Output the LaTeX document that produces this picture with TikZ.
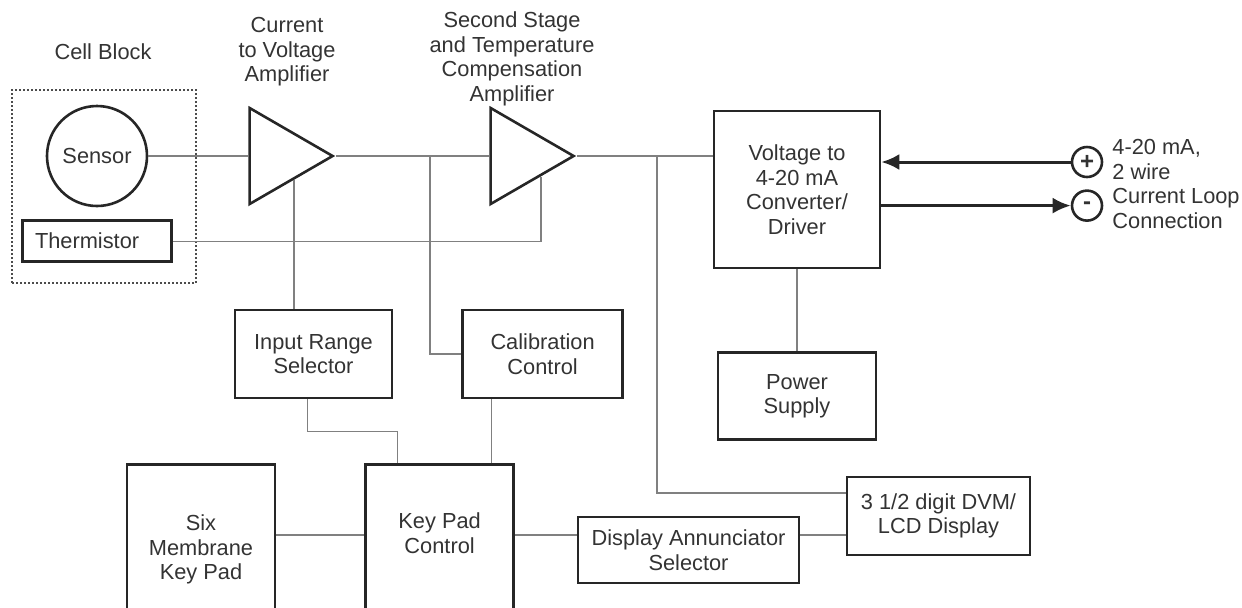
\documentclass[tikz,border=0pt]{standalone}
\usepackage{fontspec}
\setmainfont{Liberation Sans}
\usetikzlibrary{arrows.meta,positioning,shapes.geometric,calc}

\begin{document}
\begin{tikzpicture}[
    x=0.5pt, y=-0.5pt,
    font=\fontsize{10.9pt}{12.25pt}\selectfont,
    text=black!80,
    block/.style={draw=black!85, line width=1.3pt, align=center, inner sep=2pt},
    amp/.style={draw=black!85, line width=1.3pt, isosceles triangle,
        isosceles triangle stretches, minimum width=48pt, minimum height=41.5pt,
        inner sep=0pt, anchor=apex},
    caption/.style={align=center},
    terminal/.style={draw=black!85, circle, line width=1.3pt, minimum size=15pt,
        inner sep=0pt, font=\bfseries\fontsize{12pt}{12pt}\selectfont},
    wire/.style={draw=black!50, line width=0.6pt},
    loopline/.style={-{Latex[length=9pt,width=8pt]}, line width=1.5pt, black!85}
]
    \path[use as bounding box, clip] (0,0) rectangle (1242,607);

    % cell block
    \node[caption] (celltitle) at (103,52) {Cell Block};
    \node[draw=black!70, line width=1pt, dash pattern=on 1pt off 1pt,
        minimum width=92pt, minimum height=96.5pt, inner sep=0pt] (cell) at (104,186.5) {};
    \node[block, circle, minimum size=50pt, inner sep=0pt] (sensor) at (97,156) {Sensor};
    \node[block, below=6pt of sensor, minimum height=20.5pt, text width=62pt,
        align=left, inner xsep=6.25pt] (therm) {Thermistor};

    % amplifiers
    \node[amp] (amp1) at (336,156) {};
    \node[amp] (amp2) at (577,156) {};
    \node[caption] (amp1title) at (287,52) {Current\\to Voltage\\Amplifier};
    \node[caption] (amp2title) at (512,59) {Second Stage\\and Temperature\\Compensation\\Amplifier};

    % converter and loop
    \node[block, minimum width=83pt, minimum height=78.5pt] (conv) at (797,189.5)
        {Voltage to\\4-20 mA\\Converter/\\Driver};
    \node[block, below=41pt of conv, minimum width=79pt, minimum height=43.5pt] (power) {Power\\Supply};
    \node[terminal] (plus) at (1087,162) {+};
    \node[terminal, below=5.5pt of plus] (minus) {-};
    \node[caption, align=left, anchor=west, inner xsep=0pt] (looptext) at (1112,184)
        {4-20 mA,\\2 wire\\Current Loop\\Connection};

    % controls
    \node[block, minimum width=78.5pt, minimum height=44pt] (range) at (313.5,354) {Input Range\\Selector};
    \node[block, right=34pt of range, minimum width=80pt, minimum height=44pt] (calib) {Calibration\\Control};
    \node[block, anchor=north, minimum width=74pt, minimum height=88.5pt, text depth=5.6pt]
        (sixkey) at (201,463) {Six\\Membrane\\Key Pad};
    \node[block, right=44pt of sixkey, minimum width=74pt, minimum height=88.5pt, text depth=19.5pt]
        (keypad) {Key Pad\\Control};
    \node[block, minimum width=110.5pt, minimum height=33pt] (disp) at (688.5,550) {Display Annunciator\\Selector};
    \node[block, minimum width=91.5pt, minimum height=39pt] (dvm) at (938.5,516) {3 1/2 digit DVM/\\LCD Display};

    \coordinate (tap1) at (430,156);
    \coordinate (tap2) at (657,156);
    \coordinate (kprow) at (0,535);
    \coordinate (a1low) at ($(amp1.apex)!0.48!(amp1.right corner)$);
    \coordinate (a2low) at ($(amp2.apex)!0.41!(amp2.right corner)$);
    \coordinate (cdrop) at ([xshift=15pt]calib.south west);

    \draw[wire] (sensor.east) -- (amp1.west);
    \draw[wire] (amp1.apex) -- (amp2.west);
    \draw[wire] (amp2.apex) -- (amp2.apex -| conv.west);
    \draw[wire] (tap1) |- (calib.west);
    \draw[wire] (tap2) |- ([yshift=11.5pt]dvm.west);
    \draw[wire] (a1low) -- (a1low |- range.north);
    \draw[wire] (therm.east) -| (a2low);
    \draw[wire] (conv.south) -- (power.north);
    \draw[wire] ($(range.south west)!0.46!(range.south east)$) -- ++(0,32)
        -| ($(keypad.north west)!0.22!(keypad.north east)$);
    \draw[wire] (cdrop) -- (cdrop |- keypad.north);
    \draw[wire] (sixkey.east |- kprow) -- (keypad.west |- kprow);
    \draw[wire] (keypad.east |- kprow) -- (disp.west |- kprow);
    \draw[wire] (disp.east |- kprow) -- (dvm.west |- kprow);
    \draw[loopline] (plus.west) -- (plus.west -| conv.east);
    \draw[loopline] (conv.east |- minus.west) -- (minus.west);
\end{tikzpicture}
\end{document}
